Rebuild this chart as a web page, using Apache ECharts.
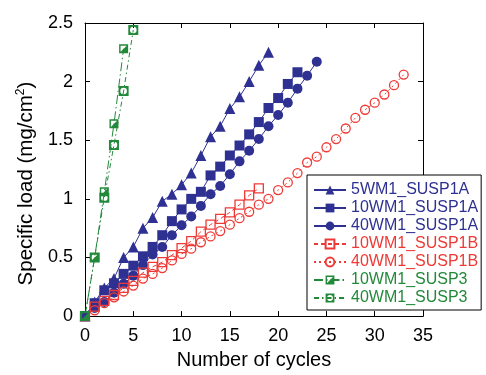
<!DOCTYPE html>
<html>
<head>
<meta charset="utf-8">
<script src="https://cdn.jsdelivr.net/npm/echarts@6/dist/echarts.min.js"></script>
<style>
  html, body { margin: 0; padding: 0; background: #fff; }
  #chart { width: 486px; height: 375px; }
</style>
</head>
<body>
<div id="chart"></div>
<script>
// Specific load (mg/cm2) per cycle, one array per sample; index = cycle number
const seriesNames = ['5WM1_SUSP1A', '10WM1_SUSP1A', '40WM1_SUSP1A', '10WM1_SUSP1B', '40WM1_SUSP1B', '10WM1_SUSP3', '40WM1_SUSP3'];
const load5WM1_1A = [0, 0.12, 0.24, 0.32, 0.5, 0.59, 0.75, 0.84, 0.98, 1.04, 1.12, 1.22, 1.37, 1.53, 1.62, 1.77, 1.87, 2.0, 2.14, 2.25];
const load10WM1_1A = [0, 0.11, 0.22, 0.28, 0.36, 0.43, 0.51, 0.59, 0.69, 0.81, 0.91, 1.0, 1.06, 1.2, 1.275, 1.37, 1.455, 1.55, 1.655, 1.775, 1.86, 1.98, 2.08];
const load40WM1_1A = [0, 0.07, 0.12, 0.2, 0.275, 0.345, 0.435, 0.525, 0.59, 0.69, 0.775, 0.85, 0.94, 1.04, 1.11, 1.21, 1.32, 1.41, 1.51, 1.62, 1.715, 1.82, 1.94, 2.05, 2.17];
const load10WM1_1B = [0, 0.08, 0.13, 0.18, 0.24, 0.3, 0.37, 0.42, 0.46, 0.52, 0.58, 0.64, 0.72, 0.78, 0.83, 0.885, 0.95, 1.03, 1.09];
const load40WM1_1B = [0, 0.05, 0.11, 0.16, 0.21, 0.26, 0.32, 0.36, 0.41, 0.475, 0.53, 0.575, 0.63, 0.68, 0.725, 0.78, 0.835, 0.89, 0.95, 1.0, 1.075, 1.14, 1.22, 1.31, 1.36, 1.44, 1.51, 1.6, 1.69, 1.76, 1.82, 1.89, 1.97, 2.06];
const load10WM1_3 = [0, 0.5, 1.06, 1.64, 2.28];
const load40WM1_3 = [0, 0.5, 1.01, 1.46, 1.92, 2.44];
const xTicks = [0, 5, 10, 15, 20, 25, 30, 35];
const yTicks = [0, 0.5, 1, 1.5, 2, 2.5];

const BLUE = '#2e3192';
const RED = '#ee3a36';
const GREEN = '#23893a';
const FONT = '"Liberation Sans", Arial, Helvetica, sans-serif';

// square outline with the lower-right half filled
const halfSquare = 'path://M0 0L10 0L10 10L0 10Z M1.6 1.6L1.6 8.4L8.4 8.4L8.4 1.6Z M8.4 1.6L8.4 8.4L1.6 8.4Z';
// thick square frame with a round hole
const ringSquare = 'path://M0 0L10 0L10 10L0 10Z M5 1.7A3.3 3.3 0 0 0 5 8.3A3.3 3.3 0 0 0 5 1.7Z';

const toPoints = arr => arr.map((v, i) => [i, v]);

function makeSeries(name, values, color, symbol, size, lineType, filled, lineWidth) {
  return {
    name: name,
    type: 'line',
    data: toPoints(values),
    symbol: symbol,
    symbolSize: size,
    showAllSymbol: true,
    lineStyle: { color: color, width: lineWidth || 1, type: lineType },
    itemStyle: filled
      ? { color: color, borderColor: color, borderWidth: 0 }
      : { color: 'rgba(255,255,255,0)', borderColor: color, borderWidth: 1.3 },
    emphasis: { disabled: true },
    animation: false,
    z: 3
  };
}

const chart = echarts.init(document.getElementById('chart'));

const axisCommon = {
  type: 'value',
  axisLine: { show: true, onZero: false, lineStyle: { color: '#000', width: 1 } },
  axisTick: { show: true, inside: true, length: 5, lineStyle: { color: '#000' } },
  splitLine: { show: false }
};

chart.setOption({
  backgroundColor: '#fff',
  animation: false,
  textStyle: { fontFamily: FONT },
  grid: { left: 85, top: 23, right: 63, bottom: 52 },
  xAxis: [
    Object.assign({}, axisCommon, {
      position: 'bottom', min: xTicks[0], max: xTicks[xTicks.length - 1], interval: 5,
      axisLabel: { color: '#000', fontSize: 18, margin: 11, fontFamily: FONT },
      name: 'Number of cycles', nameLocation: 'middle', nameGap: 26,
      nameTextStyle: { color: '#000', fontSize: 20, fontFamily: FONT }
    }),
    Object.assign({}, axisCommon, {
      position: 'top', min: xTicks[0], max: xTicks[xTicks.length - 1], interval: 5,
      axisLabel: { show: false }
    })
  ],
  yAxis: [
    Object.assign({}, axisCommon, {
      position: 'left', min: yTicks[0], max: yTicks[yTicks.length - 1], interval: 0.5,
      axisLabel: { color: '#000', fontSize: 18, margin: 12, fontFamily: FONT },
      name: '{t|Specific load (mg/cm}{s|2}{t|)}', nameLocation: 'middle', nameGap: 44,
      nameTextStyle: {
        color: '#000', fontFamily: FONT, padding: [0, 28, 0, 0],
        rich: {
          t: { fontSize: 20.5, lineHeight: 24, fontFamily: FONT, color: '#000' },
          s: { fontSize: 12, lineHeight: 24, verticalAlign: 'top', padding: [0, 0, 10, 0], fontFamily: FONT, color: '#000' }
        }
      }
    }),
    Object.assign({}, axisCommon, {
      position: 'right', min: yTicks[0], max: yTicks[yTicks.length - 1], interval: 0.5,
      axisLabel: { show: false }
    })
  ],
  legend: {
    orient: 'vertical',
    left: 307, top: 175,
    padding: [7, 3, 4, 6],
    itemGap: 2,
    itemWidth: 32, itemHeight: 11,
    backgroundColor: '#fff',
    borderColor: '#000', borderWidth: 1, borderRadius: 0,
    textStyle: { fontSize: 16, fontFamily: FONT },
    data: [
      { name: seriesNames[0], textStyle: { color: BLUE } },
      { name: seriesNames[1], textStyle: { color: BLUE } },
      { name: seriesNames[2], textStyle: { color: BLUE } },
      { name: seriesNames[3], textStyle: { color: RED } },
      { name: seriesNames[4], textStyle: { color: RED } },
      { name: seriesNames[5], textStyle: { color: GREEN } },
      { name: seriesNames[6], textStyle: { color: GREEN } }
    ],
    z: 10
  },
  series: [
    makeSeries(seriesNames[0], load5WM1_1A, BLUE, 'triangle', 11, 'solid', true),
    makeSeries(seriesNames[1], load10WM1_1A, BLUE, 'rect', 10, 'solid', true),
    makeSeries(seriesNames[2], load40WM1_1A, BLUE, 'circle', 10, 'solid', true),
    makeSeries(seriesNames[3], load10WM1_1B, RED, 'rect', 9, [4, 3], false),
    makeSeries(seriesNames[4], load40WM1_1B, RED, 'circle', 9, [2, 3], false),
    makeSeries(seriesNames[5], load10WM1_3, GREEN, halfSquare, 9, [9, 3, 1.5, 3], true),
    makeSeries(seriesNames[6], load40WM1_3, GREEN, ringSquare, 10, [5, 3, 1.5, 3], true)
  ]
});
</script>
</body>
</html>
